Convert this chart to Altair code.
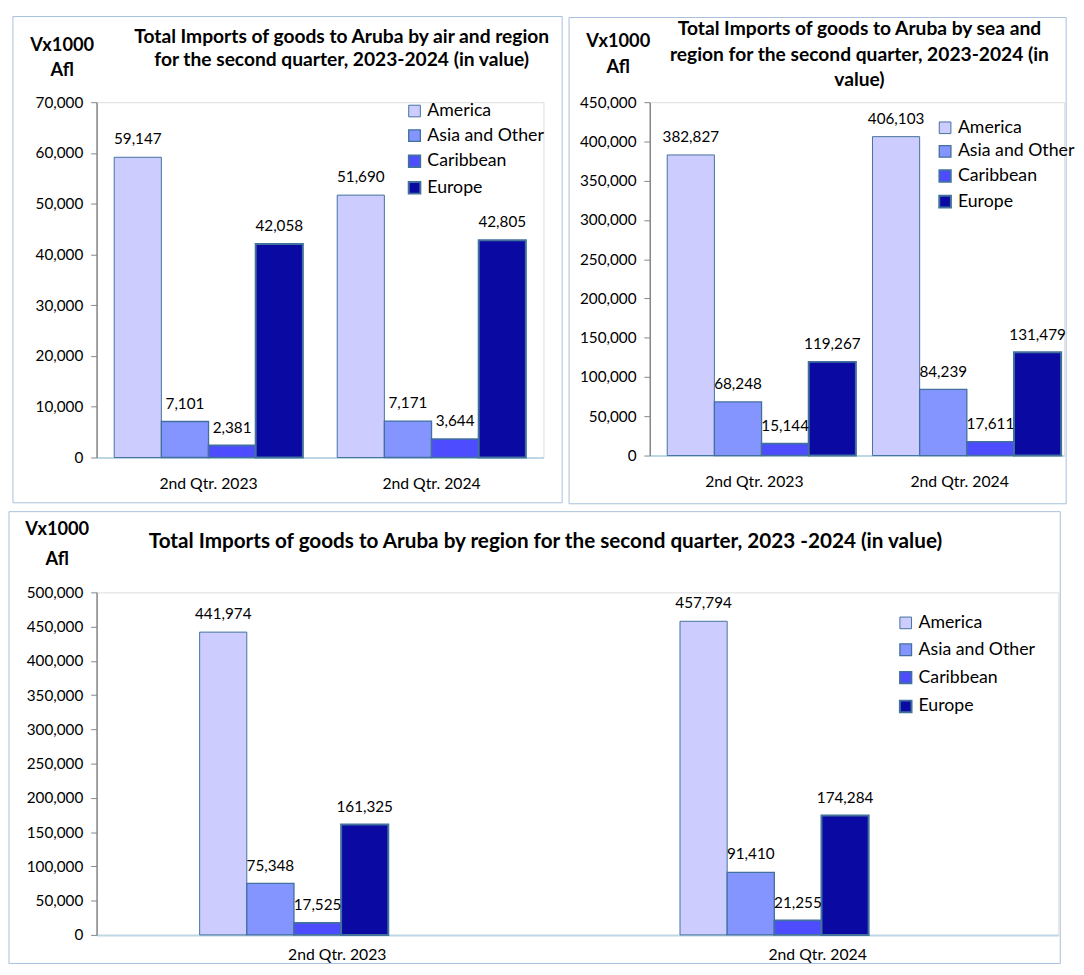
import altair as alt
import pandas as pd

quarters = ["2nd Qtr. 2023", "2nd Qtr. 2024"]
regions = ["America", "Asia and Other", "Caribbean", "Europe"]

air_2023 = [59147, 7101, 2381, 42058]
air_2024 = [51690, 7171, 3644, 42805]
sea_2023 = [382827, 68248, 15144, 119267]
sea_2024 = [406103, 84239, 17611, 131479]
total_2023 = [441974, 75348, 17525, 161325]
total_2024 = [457794, 91410, 21255, 174284]

air_title = ["Total Imports of goods to Aruba by air and region",
             "for the second quarter, 2023-2024 (in value)"]
sea_title = ["Total Imports of goods to Aruba by sea and",
             "region for the second quarter, 2023-2024 (in",
             "value)"]
total_title = ["Total Imports of goods to Aruba by region for the second quarter, 2023 -2024 (in value)"]
unit_label = ["Vx1000", "Afl"]

colors = ["#CCCCFF", "#8595FF", "#4D4DFF", "#0A0AA3"]
FONT = "Lato"
OUTLINE = "#41719C"


def make_frame(vals_a, vals_b):
    rows = []
    for q, vals in zip(quarters, [vals_a, vals_b]):
        for r, v in zip(regions, vals):
            rows.append({"quarter": q, "region": r, "value": v})
    return pd.DataFrame(rows)


def panel(df, W, H, ymax, ystep, pad_inner, pad_outer, title_lines, title_x,
          title_y, title_size, title_lh, unit_x, unit_y, unit_lh, legend_x,
          legend_y, row_pad, border, xlab_pad):
    x = alt.X("quarter:N", sort=quarters, title=None,
              scale=alt.Scale(paddingInner=pad_inner, paddingOuter=pad_outer),
              axis=alt.Axis(labelAngle=0, ticks=False, labelPadding=xlab_pad,
                            labelFontSize=16, labelFont=FONT, labelColor="#000",
                            domainColor="#BDD7E4", domainWidth=2))
    xo = alt.XOffset("region:N", sort=regions,
                     scale=alt.Scale(paddingInner=0, paddingOuter=0))
    y = alt.Y("value:Q", title=None,
              scale=alt.Scale(domain=[0, ymax], nice=False),
              axis=alt.Axis(values=list(range(0, ymax + 1, ystep)), format=",d",
                            grid=False, tickSize=6, tickColor="#868686",
                            domainColor="#868686", domainWidth=1.5,
                            labelFontSize=15.5, labelFont=FONT,
                            labelColor="#000", labelPadding=8,
                            labelOverlap=False, labelFlush=False))
    color = alt.Color("region:N", sort=regions,
                      scale=alt.Scale(domain=regions, range=colors),
                      legend=alt.Legend(title=None, orient="none",
                                        legendX=legend_x, legendY=legend_y,
                                        symbolType="square", symbolSize=140,
                                        symbolStrokeColor=OUTLINE,
                                        symbolStrokeWidth=1.5,
                                        labelFontSize=18, labelFont=FONT,
                                        labelColor="#000", rowPadding=row_pad,
                                        padding=0, labelOffset=4))
    base = alt.Chart(df)
    bars = base.mark_bar(stroke=OUTLINE).encode(
        x=x, xOffset=xo, y=y, color=color,
        strokeWidth=alt.StrokeWidth("region:N", sort=regions,
                                    scale=alt.Scale(domain=regions, range=[1, 2, 2, 2]),
                                    legend=None))
    labels = base.mark_text(baseline="middle", dy=-18, fontSize=15.5, font=FONT,
                            color="#000").encode(
        x=x, xOffset=xo, y=y,
        text=alt.Text("value:Q", format=","))
    one = pd.DataFrame({"k": [0]})
    bx1, bx2, by1, by2 = border
    frame_rect = alt.Chart(one).mark_rect(fillOpacity=0, stroke="#A7BFDA",
                                          strokeWidth=1).encode(
        x=alt.value(bx1), x2=alt.value(bx2), y=alt.value(by1), y2=alt.value(by2))
    title = alt.Chart(one).mark_text(text=title_lines, fontSize=title_size,
                                     fontWeight="bold", font=FONT, align="center",
                                     baseline="middle", lineHeight=title_lh,
                                     color="#000").encode(
        x=alt.value(title_x), y=alt.value(title_y))
    unit = alt.Chart(one).mark_text(text=unit_label, fontSize=18.5,
                                    fontWeight="bold", font=FONT, align="center",
                                    baseline="middle", lineHeight=unit_lh,
                                    color="#000").encode(
        x=alt.value(unit_x), y=alt.value(unit_y))
    return alt.layer(frame_rect, bars, labels, title, unit).properties(width=W, height=H)


air = panel(make_frame(air_2023, air_2024), 454, 361, 70000, 10000, 0.154, 0.079,
            air_title, 249, -66, 19.5, 23, -35, -58, 25, 314, 0, 7,
            (-85, 473, -87, 407), 18)
sea = panel(make_frame(sea_2023, sea_2024), 421, 359, 450000, 50000, 0.151, 0.085,
            sea_title, 213, -74, 19.5, 26, -32, -62, 26, 291, 17, 6,
            (-82, 423, -86, 408), 18)
total = panel(make_frame(total_2023, total_2024), 977, 348, 500000, 50000, 0.427, 0.2145,
              total_title, 456, -51, 21, 25, -40, -64, 30, 813, 22, 9.3,
              (-89, 979, -82, 377), 12)

top = alt.hconcat(air, sea, spacing=5).resolve_scale(color="independent",
                                                     strokeWidth="independent")
chart = alt.vconcat(top, total, spacing=6).resolve_scale(
    color="independent", strokeWidth="independent"
).properties(
    padding={"left": 0, "top": 0, "right": 0, "bottom": 0}
).configure_view(strokeWidth=0, fill="#DAEEF3").configure(
    background="white", padding={"left": 0, "top": 0, "right": 0, "bottom": 0})

chart.save("out.html", embed_options={"renderer": "svg", "actions": False})
